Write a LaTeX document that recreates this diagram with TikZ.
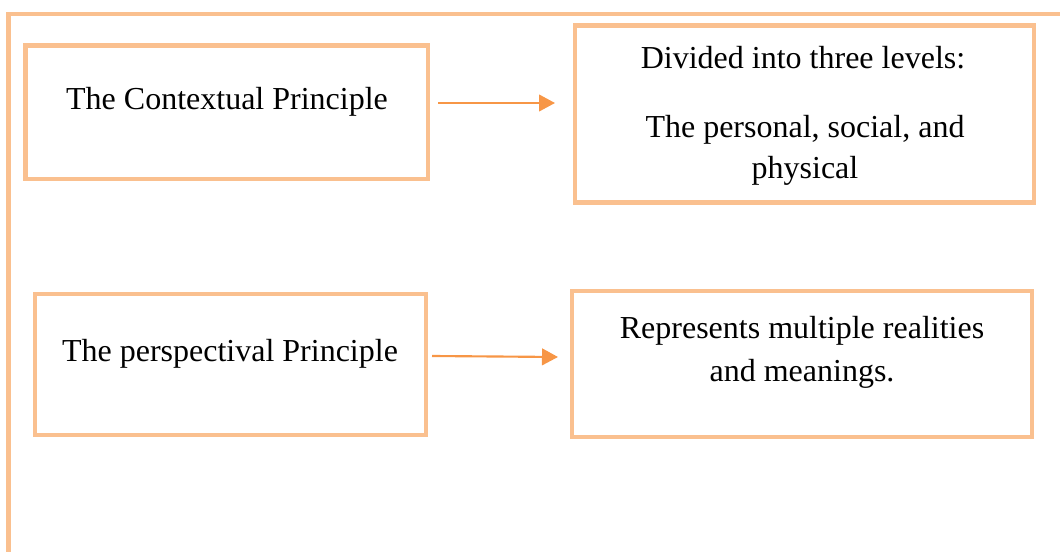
\documentclass[tikz,border=0pt]{standalone}
\usepackage{fontspec}
\setmainfont{Liberation Serif}
\usetikzlibrary{arrows.meta}
\definecolor{boxc}{HTML}{FAC08F}
\definecolor{arrc}{HTML}{F79646}
\tikzset{
  frame/.style={draw=boxc, line width=3.4pt},
  box/.style={draw=boxc, line width=3.4pt, rectangle, inner sep=0pt},
  txt/.style={anchor=base, inner sep=0pt, font=\fontsize{24}{29}\selectfont},
  conn/.style={draw=arrc, line width=1.6pt, -{Triangle[length=12pt,width=12.5pt]}}
}
\begin{document}
\begin{tikzpicture}[x=0.75pt,y=-0.75pt]
\useasboundingbox (0,0) rectangle (1060,552);
% outer frame
\coordinate (fl) at (8.5,552);
\coordinate (fc) at (8.5,14);
\coordinate (fr) at (1062,14);
\draw[frame] (fl) -- (fc) -- (fr);
% boxes
\node[box, minimum width={402.5*0.75pt}, minimum height={133.5*0.75pt}] (b1) at (226.75,112.25) {};
\node[box, minimum width={459*0.75pt}, minimum height={177*0.75pt}] (b2) at (804.5,114) {};
\node[box, minimum width={391*0.75pt}, minimum height={141*0.75pt}] (b3) at (230.5,364.5) {};
\node[box, minimum width={460*0.75pt}, minimum height={146*0.75pt}] (b4) at (802,364) {};
% texts
\node[txt] (t1) at (227,110) {The Contextual Principle};
\node[txt] (t2a) at (803,69) {Divided into three levels:};
\node[txt] (t2b) at (805,138) {The personal, social, and};
\node[txt] (t2c) at (805,179) {physical};
\node[txt] (t3) at (230,361) {The perspectival Principle};
\node[txt] (t4a) at (802,339) {Represents multiple realities};
\node[txt] (t4b) at (802,381) {and meanings.};
% arrows
\coordinate (a1s) at (438,103);
\coordinate (a1e) at (555,103);
\coordinate (a2s) at (432,356);
\coordinate (a2e) at (558,357);
\draw[conn] (a1s) -- (a1e);
\draw[conn] (a2s) -- (a2e);
\end{tikzpicture}
\end{document}
